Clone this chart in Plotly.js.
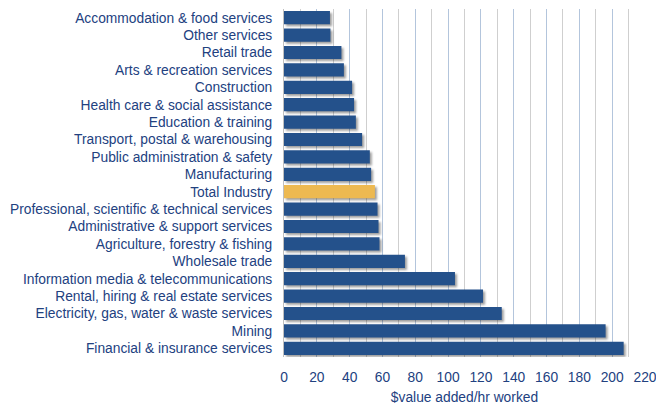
<!DOCTYPE html>
<html>
<head>
<meta charset="utf-8">
<script src="https://cdn.plot.ly/plotly-3.0.1.min.js"></script>
<style>
body{margin:0;padding:0;background:#fff;}
#chart{width:656px;height:405px;}
.trace.bars path{filter:drop-shadow(2px 2px 1.2px rgba(0,0,0,0.38));}
</style>
</head>
<body>
<div id="chart"></div>
<script>
const industries = [
  "Accommodation & food services",
  "Other services",
  "Retail trade",
  "Arts & recreation services",
  "Construction",
  "Health care & social assistance",
  "Education & training",
  "Transport, postal & warehousing",
  "Public administration & safety",
  "Manufacturing",
  "Total Industry",
  "Professional, scientific & technical services",
  "Administrative & support services",
  "Agriculture, forestry & fishing",
  "Wholesale trade",
  "Information media & telecommunications",
  "Rental, hiring & real estate services",
  "Electricity, gas, water & waste services",
  "Mining",
  "Financial & insurance services"
];
const valueAdded = [28, 28.3, 35, 36.5, 41.5, 42.7, 43.8, 47.6, 52.3, 53.1, 55.4, 57, 57.6, 58.2, 73.7, 104.2, 121.3, 132.7, 196, 207];
const xTicks = [0, 20, 40, 60, 80, 100, 120, 140, 160, 180, 200, 220];

const colors = industries.map(n => n === "Total Industry" ? "#EDB951" : "#24518B");

Plotly.newPlot("chart", [{
  type: "bar",
  orientation: "h",
  y: industries,
  x: valueAdded,
  marker: {color: colors, line: {width: 0}},
  hoverinfo: "x+y"
}], {
  width: 656, height: 405,
  margin: {l: 284, r: 11, t: 9, b: 48},
  paper_bgcolor: "#fff", plot_bgcolor: "#fff",
  bargap: 0.24,
  font: {family: "Liberation Sans, Arial, sans-serif", size: 13.8, color: "#22417F"},
  xaxis: {
    range: [0, 220], tickvals: xTicks, ticktext: xTicks.map(String),
    showgrid: true, gridcolor: "#b3c5dc", gridwidth: 1,
    minor: {dtick: 10, showgrid: true, gridcolor: "#cfcfcf", gridwidth: 1},
    zeroline: false, showline: false, ticks: "",
    ticklabelstandoff: 10, ticklabeloverflow: "allow",
    automargin: false,
    tickfont: {size: 13.8, color: "#22417F"},
    title: {text: "$value added/hr worked", font: {size: 13.8, color: "#22417F"}, standoff: 8}
  },
  yaxis: {
    autorange: "reversed", type: "category",
    showline: true, linecolor: "#bfbfbf", linewidth: 1,
    showgrid: false, ticks: "", ticklabelstandoff: 8,
    tickfont: {size: 13.8, color: "#22417F"}
  },
  showlegend: false
}, {displayModeBar: false, staticPlot: true});
</script>
</body>
</html>
